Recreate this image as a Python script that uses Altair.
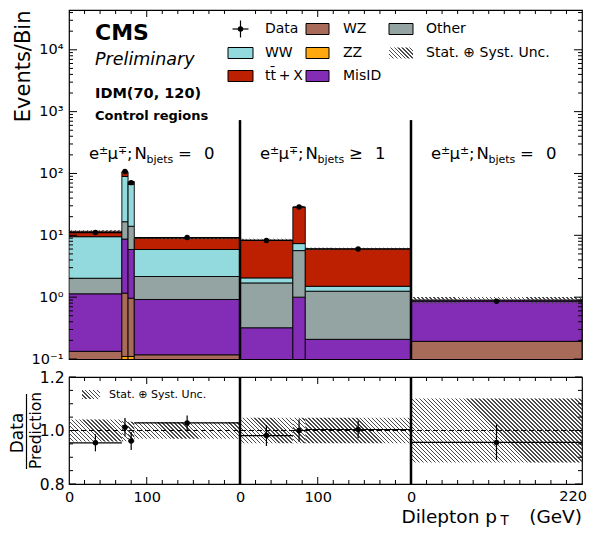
import math
import altair as alt
import pandas as pd

# ---------------- values ----------------
REGION = 220                      # each region spans 0-220 GeV
bin_region = [0, 0, 0, 0, 1, 1, 1, 2]
bin_lo = [0, 68, 76, 84, 0, 68, 84, 0]
bin_hi = [68, 76, 84, 220, 68, 84, 220, 220]

proc_names = ["ZZ", "WZ", "MisID", "Other", "WW", "ttX"]          # stacked bottom -> top
proc_colors = ["#ffa90e", "#a96b59", "#832db6", "#94a4a2", "#92dadd", "#bd1f01"]
zz = [0.010, 0.110, 0.110, 0.010, 0.005, 0.005, 0.005, 0.003]
wz = [0.123, 1.050, 0.850, 0.107, 0.020, 0.020, 0.020, 0.190]
misid = [1.000, 7.540, 4.940, 0.800, 0.295, 0.975, 0.183, 0.707]
other = [0.890, 7.900, 8.100, 1.240, 1.380, 4.660, 1.040, 0.000]
ww = [7.480, 72.90, 52.50, 3.740, 0.350, 1.690, 0.250, 0.000]
ttx = [2.100, 16.50, 7.500, 3.050, 6.350, 21.25, 4.500, 0.000]
stack_values = [zz, wz, misid, other, ww, ttx]

data_counts = [11.07, 107.3, 71.1, 9.20, 8.24, 28.6, 6.02, 0.86]
data_rel_err = [0.032, 0.034, 0.034, 0.028, 0.039, 0.042, 0.033, 0.066]
unc_rel = [0.041, 0.040, 0.033, 0.031, 0.048, 0.048, 0.048, 0.120]

x_tick_values = [0, 100, 220, 320, 440, 660]
x_tick_labels = ["0", "100", "0", "100", "0", "220"]
y_tick_values = [0.1, 1, 10, 100, 1000, 10000]
y_tick_labels = ["10⁻¹", "10⁰", "10¹", "10²", "10³", "10⁴"]
ratio_tick_values = [0.8, 1.0, 1.2]

legend_entries = [  # label, kind, process colour key, column, row
    ("Data", "data", None, 0, 0), ("WZ", "box", "WZ", 1, 0), ("Other", "box", "Other", 2, 0),
    ("WW", "box", "WW", 0, 1), ("ZZ", "box", "ZZ", 1, 1),
    ("Stat. ⊕ Syst. Unc.", "hatch", None, 2, 1),
    ("tt̄\u2009+\u2009X", "box", "ttX", 0, 2), ("MisID", "box", "MisID", 1, 2),
]
region_label_pieces = [
    [("e", "n"), ("±", "sup"), ("μ", "n"), ("∓", "sup"), (";", "n"), ("N", "n"), ("bjets", "sub"), ("=", "n"), ("0", "n")],
    [("e", "n"), ("±", "sup"), ("μ", "n"), ("∓", "sup"), (";", "n"), ("N", "n"), ("bjets", "sub"), ("≥", "n"), ("1", "n")],
    [("e", "n"), ("±", "sup"), ("μ", "n"), ("±", "sup"), (";", "n"), ("N", "n"), ("bjets", "sub"), ("=", "n"), ("0", "n")],
]

# ---------------- layout ----------------
W, H_TOP, H_RAT = 513, 349, 107
Y_MIN, Y_MAX = 0.1, 4.4e4
XMAX = 3 * REGION
color_of = dict(zip(proc_names, proc_colors))

# ---------------- tables ----------------
bins = pd.DataFrame({"region": bin_region, "lo": bin_lo, "hi": bin_hi})
bins["glo"] = bins["lo"] + REGION * bins["region"]
bins["ghi"] = bins["hi"] + REGION * bins["region"]
bins["c"] = (bins["glo"] + bins["ghi"]) / 2
bins["pred"] = [sum(s[i] for s in stack_values) for i in range(len(bins))]
bins["data"] = data_counts
bins["ratio"] = bins["data"] / bins["pred"]
bins["rlo"] = bins["ratio"] - pd.Series(data_rel_err)
bins["rhi"] = bins["ratio"] + pd.Series(data_rel_err)
bins["u"] = unc_rel

rows = []
for i in range(len(bins)):
    cum = 0.0
    for name, vals in zip(proc_names, stack_values):
        v = vals[i]
        if v > 0:
            rows.append({"x": bins.glo[i], "x2": bins.ghi[i], "y": max(cum, 1e-3), "y2": cum + v, "proc": name})
        cum += v
stack_df = pd.DataFrame(rows)

# ---------------- helpers ----------------
sx = alt.Scale(domain=[0, XMAX], nice=False, zero=False)
sy_top = alt.Scale(type="log", domain=[Y_MIN, Y_MAX], nice=False)
sy_rat = alt.Scale(domain=[0.8, 1.2], nice=False, zero=False)


def label_expr(values, labels):
    expr = "''"
    for v, l in reversed(list(zip(values, labels))):
        expr = f"datum.value == {v} ? '{l}' : {expr}"
    return expr


top_y_axis = alt.Axis(values=y_tick_values, labelExpr=label_expr(y_tick_values, y_tick_labels),
                      ticks=False, domain=False, grid=False, labelFontSize=14.5, labelPadding=6,
                      title="Events/Bin", titleX=-40, titleY=0, titleAngle=270, titleAlign="right",
                      titleBaseline="alphabetic", titleFontSize=21, titleFontWeight="normal")
# the last x label (right edge) is drawn as a text mark so that it stays inside the page
rat_x_axis = alt.Axis(values=x_tick_values[:-1],
                      labelExpr=label_expr(x_tick_values[:-1], x_tick_labels[:-1]),
                      ticks=False, domain=False, grid=False, labelFontSize=14.5, labelPadding=6,
                      labelFlush=False, labelOverlap=False, title=None)
rat_y_axis = alt.Axis(values=ratio_tick_values, format=".1f", ticks=False, domain=False, grid=False,
                      labelFontSize=15.5, labelPadding=5, title=None)


def XT(f):
    return alt.X(f"{f}:Q", scale=sx, axis=None)


def YT(f):
    return alt.Y(f"{f}:Q", scale=sy_top, axis=top_y_axis)


def XR(f):
    return alt.X(f"{f}:Q", scale=sx, axis=rat_x_axis)


def YR(f):
    return alt.Y(f"{f}:Q", scale=sy_rat, axis=rat_y_axis)


def one():
    return pd.DataFrame({"k": [0]})


def hatch(w, h, period=4.0, lw=1.0, color="#4a4a4a"):
    P = period / math.sqrt(2)
    L = (w + h) / math.sqrt(2)
    n = max(1, int(round(L / P)))
    f = min(0.8, lw / P)
    r = h / w
    a = (1 + r) / (1 + r * r)
    clear = "rgba(255,255,255,0)"
    stops = []
    for k in range(n):
        s, e, t = k / n, (k + f) / n, (k + 1) / n
        stops += [alt.GradientStop(offset=s, color=color), alt.GradientStop(offset=e, color=color),
                  alt.GradientStop(offset=e, color=clear), alt.GradientStop(offset=t, color=clear)]
    return alt.LinearGradient(gradient="linear", stops=stops, x1=0, y1=1, x2=a, y2=1 - a * r)


def text_layer(t, x, y, size, weight="normal", style="normal", align="left", baseline="alphabetic", angle=0):
    return alt.Chart(pd.DataFrame({"t": [t]})).mark_text(
        align=align, baseline=baseline, fontSize=size, fontWeight=weight, fontStyle=style,
        angle=angle, color="black").encode(x=alt.value(x), y=alt.value(y), text="t:N")


def value_rect(x1, x2, y1, y2, **mark):
    return alt.Chart(one()).mark_rect(**mark).encode(
        x=alt.value(x1), x2=alt.value(x2), y=alt.value(y1), y2=alt.value(y2))


def value_rule(x1, x2, y1, y2, **mark):
    return alt.Chart(one()).mark_rule(color="black", **mark).encode(
        x=alt.value(x1), x2=alt.value(x2), y=alt.value(y1), y2=alt.value(y2))


px_x = W / XMAX
log_span = math.log10(Y_MAX / Y_MIN)


def top_px(v):
    return H_TOP * math.log10(v / Y_MIN) / log_span


# ---------------- top panel ----------------
top_layers = []
top_layers.append(
    alt.Chart(stack_df).mark_rect(stroke="black", strokeWidth=0.9, clip=True).encode(
        x=XT("x"), x2=alt.X2("x2"), y=YT("y"), y2=alt.Y2("y2"),
        fill=alt.Fill("proc:N", scale=alt.Scale(domain=proc_names, range=proc_colors), legend=None)))

for i in range(len(bins)):
    p, u = bins.pred[i], bins.u[i]
    w = (bins.ghi[i] - bins.glo[i]) * px_x
    h = top_px(p * (1 + u)) - top_px(p * (1 - u))
    df = pd.DataFrame({"x": [bins.glo[i]], "x2": [bins.ghi[i]], "y": [p * (1 - u)], "y2": [p * (1 + u)]})
    top_layers.append(alt.Chart(df).mark_rect(fill=hatch(w, h), clip=True).encode(
        x=XT("x"), x2=alt.X2("x2"), y=YT("y"), y2=alt.Y2("y2")))

top_layers.append(alt.Chart(bins).mark_rule(color="black", strokeWidth=1.2).encode(
    x=XT("glo"), x2=alt.X2("ghi"), y=YT("data")))
top_layers.append(alt.Chart(bins).mark_circle(size=30, color="black", opacity=1).encode(
    x=XT("c"), y=YT("data")))

div_top = pd.DataFrame({"x": [REGION, 2 * REGION], "y1": [Y_MIN, Y_MIN], "y2": [730, 730]})
top_layers.append(alt.Chart(div_top).mark_rule(color="black", strokeWidth=2.5).encode(
    x=XT("x"), y=YT("y1"), y2=alt.Y2("y2")))

major_y = y_tick_values
minor_y = [m * 10 ** d for d in range(-1, 5) for m in range(2, 10) if m * 10 ** d < Y_MAX]
for vals, ln in [(major_y, 8), (minor_y, 4)]:
    df = pd.DataFrame({"v": vals})
    top_layers.append(alt.Chart(df).mark_rule(color="black").encode(
        y=YT("v"), x=alt.value(0), x2=alt.value(ln)))
    top_layers.append(alt.Chart(df).mark_rule(color="black").encode(
        y=YT("v"), x=alt.value(W), x2=alt.value(W - ln)))

major_x = [100, REGION + 100]
minor_x = [r * REGION + v for r in range(3) for v in range(20, REGION, 20)
           if (r * REGION + v) not in major_x]
for vals, ln in [(major_x, 7), (minor_x, 4)]:
    df = pd.DataFrame({"v": vals})
    top_layers.append(alt.Chart(df).mark_rule(color="black").encode(
        x=XT("v"), y=alt.value(0), y2=alt.value(ln)))

# CMS labels
top_layers += [
    text_layer("CMS", 26, 30, 22, weight="bold"),
    text_layer("Preliminary", 26, 54.5, 17.5, style="italic"),
    text_layer("IDM(70, 120)", 26, 88, 14.5, weight="bold"),
    text_layer("Control regions", 26, 110, 13, weight="bold"),
]

# legend
col_box = [(159, 184), (237, 260), (320, 344)]
col_text = [196, 274, 357]
row_y = [19, 43, 66]
for label, kind, key, c, r in legend_entries:
    cy = row_y[r]
    x1, x2 = col_box[c]
    if kind == "data":
        cx = (x1 + x2) / 2
        top_layers.append(value_rule(cx, cx, cy - 8.5, cy + 8.5, strokeWidth=1.2))
        top_layers.append(value_rule(cx - 8, cx + 8, cy, cy, strokeWidth=1.2))
        top_layers.append(alt.Chart(one()).mark_circle(size=30, color="black", opacity=1).encode(
            x=alt.value(cx), y=alt.value(cy)))
    elif kind == "box":
        top_layers.append(value_rect(x1, x2, cy - 5.5, cy + 5.5, fill=color_of[key], stroke="black", strokeWidth=1))
    else:
        top_layers.append(value_rect(x1, x2, cy - 5.5, cy + 5.5, fill=hatch(x2 - x1, 11)))
    top_layers.append(text_layer(label, col_text[c], cy, 14, baseline="middle"))

# region labels
piece_offsets = [0, 10, 18.5, 29, 38, 45.5, 57.5, 89, 115]
region_px = REGION * px_x
for r, pieces in enumerate(region_label_pieces):
    x0 = r * region_px + 20
    for (t, kind), off in zip(pieces, piece_offsets):
        if kind == "n":
            top_layers.append(text_layer(t, x0 + off, 149, 16.5))
        elif kind == "sup":
            top_layers.append(text_layer(t, x0 + off, 143.5, 11))
        else:
            top_layers.append(text_layer(t, x0 + off, 152.5, 11))

top = alt.layer(*top_layers).properties(width=W, height=H_TOP)

# ---------------- ratio panel ----------------
rat_layers = []
for i in range(len(bins)):
    u = bins.u[i]
    w = (bins.ghi[i] - bins.glo[i]) * px_x
    h = 2 * u * H_RAT / 0.4
    df = pd.DataFrame({"x": [bins.glo[i]], "x2": [bins.ghi[i]], "y": [1 - u], "y2": [1 + u]})
    rat_layers.append(alt.Chart(df).mark_rect(fill=hatch(w, h), clip=True).encode(
        x=XR("x"), x2=alt.X2("x2"), y=YR("y"), y2=alt.Y2("y2")))

rat_layers.append(alt.Chart(pd.DataFrame({"y": [1.0]})).mark_rule(
    color="black", strokeWidth=1, strokeDash=[5, 3]).encode(y=YR("y")))
rat_layers.append(alt.Chart(bins).mark_rule(color="black", strokeWidth=1.2).encode(
    x=XR("glo"), x2=alt.X2("ghi"), y=YR("ratio")))
rat_layers.append(alt.Chart(bins).mark_rule(color="black", strokeWidth=1.2).encode(
    x=XR("c"), y=YR("rlo"), y2=alt.Y2("rhi")))
rat_layers.append(alt.Chart(bins).mark_circle(size=30, color="black", opacity=1).encode(
    x=XR("c"), y=YR("ratio")))

div_rat = pd.DataFrame({"x": [REGION, 2 * REGION]})
rat_layers.append(alt.Chart(div_rat).mark_rule(color="black", strokeWidth=2.5).encode(
    x=XR("x"), y=alt.value(0), y2=alt.value(H_RAT)))

for vals, ln in [([0.8, 1.0, 1.2], 7), ([0.85, 0.9, 0.95, 1.05, 1.1, 1.15], 4)]:
    df = pd.DataFrame({"v": vals})
    rat_layers.append(alt.Chart(df).mark_rule(color="black").encode(
        y=YR("v"), x=alt.value(0), x2=alt.value(ln)))
    rat_layers.append(alt.Chart(df).mark_rule(color="black").encode(
        y=YR("v"), x=alt.value(W), x2=alt.value(W - ln)))
for vals, ln in [(major_x, 7), (minor_x, 4)]:
    df = pd.DataFrame({"v": vals})
    rat_layers.append(alt.Chart(df).mark_rule(color="black").encode(
        x=XR("v"), y=alt.value(0), y2=alt.value(ln)))
    rat_layers.append(alt.Chart(df).mark_rule(color="black").encode(
        x=XR("v"), y=alt.value(H_RAT), y2=alt.value(H_RAT - ln)))

# right-most x tick label, positioned by the x scale
last_lab = pd.DataFrame({"v": [x_tick_values[-1]], "t": [x_tick_labels[-1]]})
rat_layers.append(alt.Chart(last_lab).mark_text(
    align="right", baseline="top", fontSize=14.5, dx=5, color="black").encode(
    x=XR("v"), y=alt.value(H_RAT + 6), text="t:N"))

rat_layers.append(value_rect(13, 31, 13, 22, fill=hatch(18, 9)))
rat_layers.append(text_layer("Stat. ⊕ Syst. Unc.", 40, 17.5, 11, baseline="middle"))

rat_layers += [
    text_layer("Data", -46, 56, 17, align="center", angle=270),
    value_rule(-42.5, -42.5, 17, 92, strokeWidth=1.2),
    text_layer("Prediction", -28, 53.5, 15.5, align="center", angle=270),
    text_layer("Dilepton p", 428, 145.5, 18.5, align="right"),
    text_layer("T", 431.5, 147.5, 13.5),
    text_layer("(GeV)", 513, 145.5, 18.5, align="right"),
]

ratio = alt.layer(*rat_layers).properties(width=W, height=H_RAT)

chart = alt.vconcat(top, ratio, spacing=18, bounds="flush").properties(
    padding={"left": 0, "top": 0, "right": 0, "bottom": 0}
).configure(font="DejaVu Sans").configure_view(
    stroke="black", strokeWidth=1.2
).configure_axis(labelColor="black", titleColor="black")

chart.save("out.html", embed_options={"renderer": "svg", "actions": False})
